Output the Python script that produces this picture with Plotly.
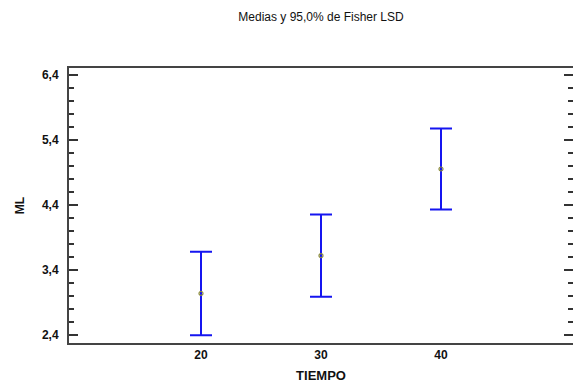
import plotly.graph_objects as go

tiempo = [20, 30, 40]
medias = [3.04, 3.62, 4.95]
semi_lsd = [0.64, 0.63, 0.62]
x_ticks = [20, 30, 40]
x_tick_labels = ["20", "30", "40"]
y_ticks = [2.4, 3.4, 4.4, 5.4, 6.4]
y_tick_labels = ["2,4", "3,4", "4,4", "5,4", "6,4"]
y_range = [2.28, 6.5]

font_fam = "Liberation Sans Narrow, Arial Narrow, Liberation Sans, sans-serif"

fig = go.Figure()
fig.add_trace(go.Scatter(
    x=tiempo, y=medias, mode="markers",
    marker=dict(symbol="circle-open", size=4, color="#8a8a3a", line=dict(width=1.2)),
    error_y=dict(type="data", array=semi_lsd, visible=True, color="#1515f0",
                 thickness=2, width=11),
    showlegend=False,
))

fig.update_layout(
    width=573, height=385,
    margin=dict(l=69, r=0, t=68, b=42),
    paper_bgcolor="white", plot_bgcolor="white",
    separators=",.",
    title=dict(text="Medias y 95,0% de Fisher LSD", x=0.5, xanchor="center",
               xref="paper", yref="container", y=1 - 17 / 385, yanchor="middle",
               font=dict(family=font_fam, size=12, color="#111")),
    font=dict(family=font_fam, size=12, color="#111"),
)
fig.update_xaxes(
    range=[9, 51], tickvals=x_ticks, ticktext=["<b>%s</b>" % t for t in x_tick_labels],
    ticks="", showgrid=False, zeroline=False,
    showline=True, linecolor="#444", linewidth=2, mirror=True, automargin=False,
    tickfont=dict(family=font_fam, size=12, color="#111"),
    title=dict(text="<b>TIEMPO</b>", standoff=9, font=dict(family=font_fam, size=13)),
)
fig.update_yaxes(
    range=y_range, tickvals=y_ticks, ticktext=["<b>%s</b>" % t for t in y_tick_labels],
    ticks="inside", ticklen=9, tickwidth=2, tickcolor="#333", ticklabelstandoff=6,
    showgrid=False, zeroline=False, automargin=False,
    showline=True, linecolor="#444", linewidth=2, mirror="allticks",
    minor=dict(dtick=0.2, tick0=2.4, ticks="inside", ticklen=5, tickwidth=2, tickcolor="#333", showgrid=False),
    tickfont=dict(family=font_fam, size=12, color="#111"),
    title=dict(text="<b>ML</b>", standoff=15, font=dict(family=font_fam, size=12)),
)

fig.write_html("out.html", config={"displayModeBar": False},
               post_script="document.body.style.margin='0';")
